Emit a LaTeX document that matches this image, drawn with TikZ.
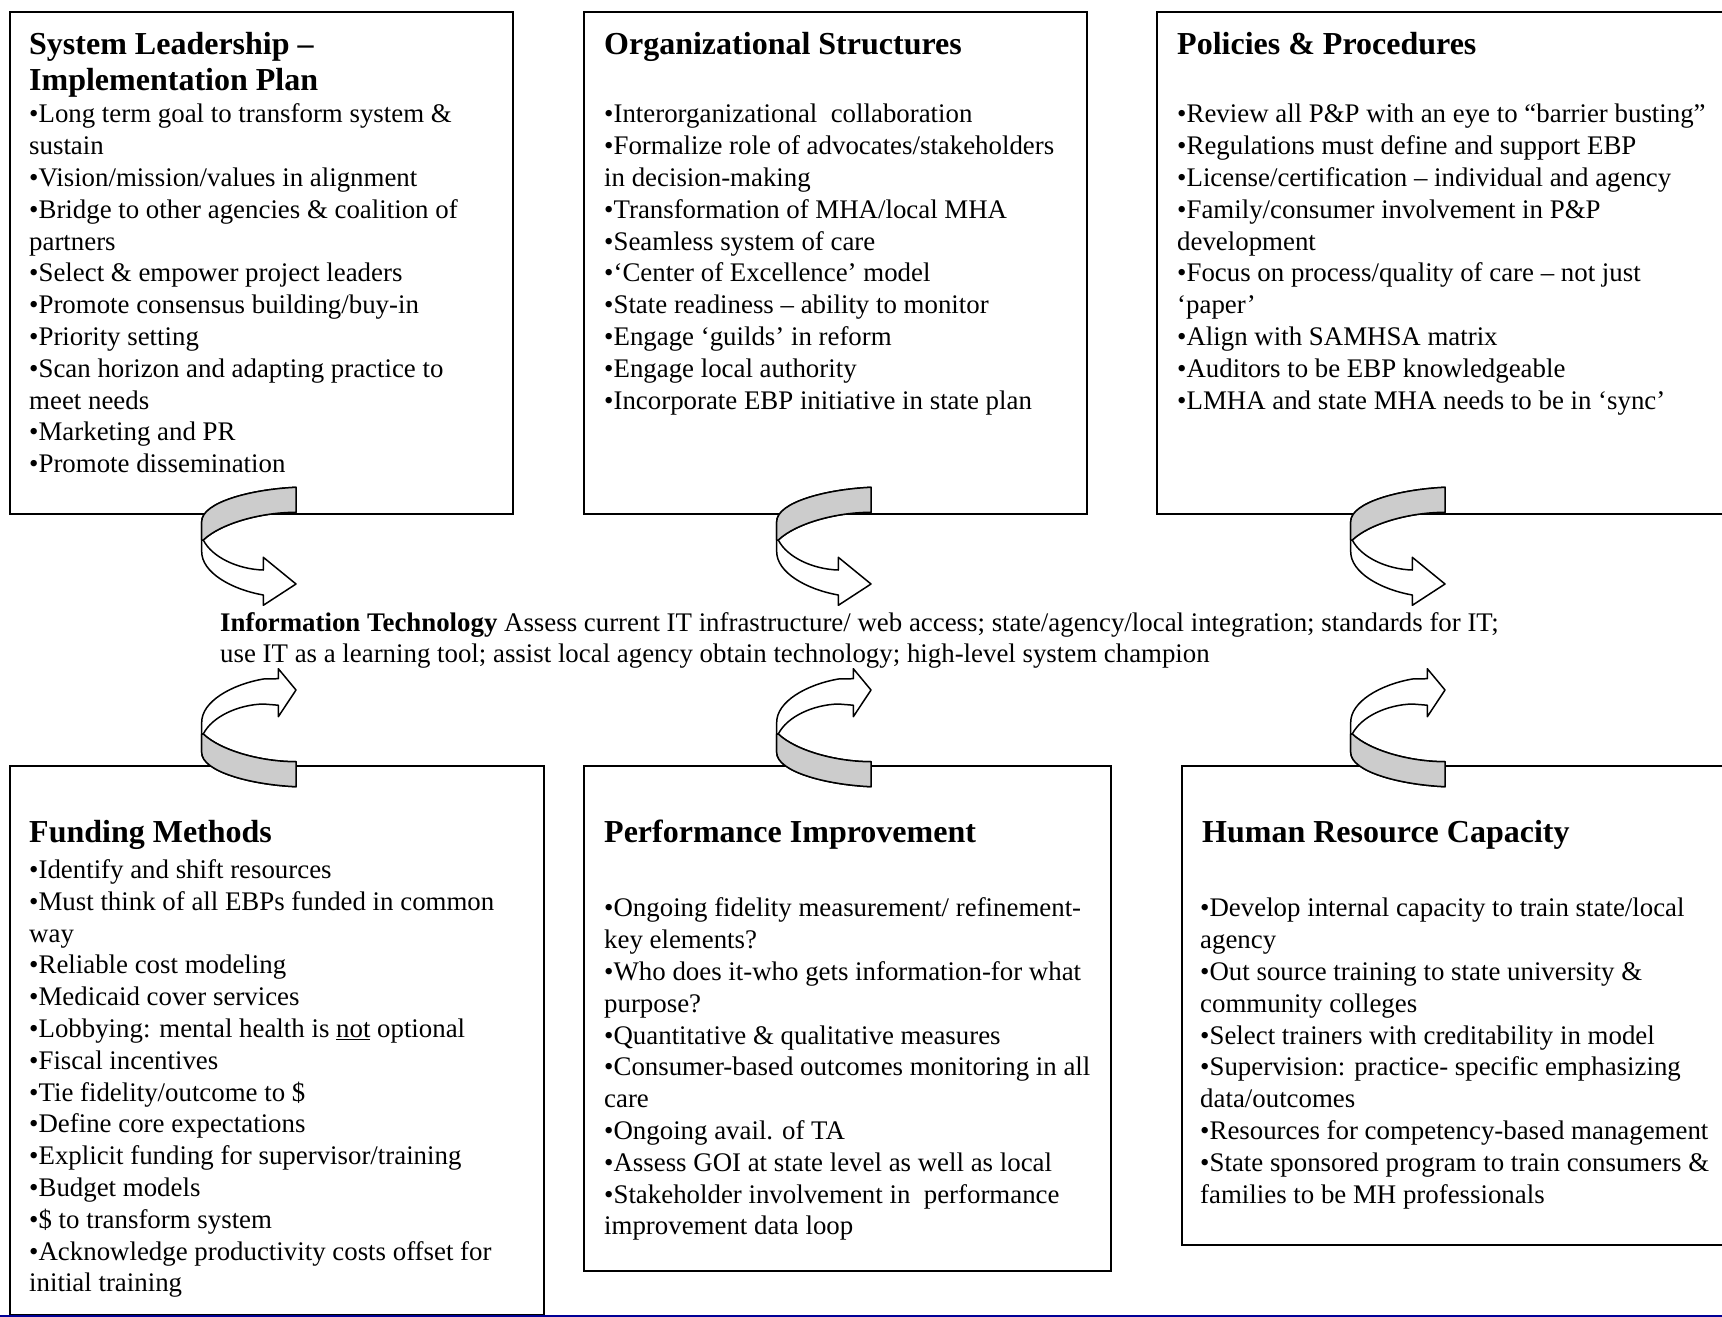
\documentclass[tikz,border=0pt]{standalone}
\usepackage{fontspec}
\setmainfont{Liberation Serif}
\usepackage{xcolor}
\usepackage{tikz}

\definecolor{pagenavy}{RGB}{0,0,150}
\tikzset{
  panel/.style={draw, line width=1.5pt, anchor=north west, inner sep=0pt},
  boxhead/.style={anchor=north west, inner sep=0pt, align=left, font=\fontsize{32}{36}\selectfont\bfseries},
  bullets/.style={anchor=north west, inner sep=0pt, align=left, font=\fontsize{26.85}{31.8}\selectfont},
  ribbon/.style={line width=1.5pt, line join=round}
}
% curved ribbon arrow: x, y, flip, head base
\newcommand{\uturn}[4]{%
  \begin{scope}[shift={(#1,#2)}, yscale=#3]
    \filldraw[ribbon, fill=white] (0,0) .. controls (-45,2) and (-94.3,15) .. (-94.3,34.4)
      -- (-94.3,64.4) .. controls (-94.3,85) and (-65,102) .. (-32.7,107.7)
      -- (#4,108) -- (#4,118) -- (0,96.7) -- (#4,70) -- (#4,81.5) -- (-32.7,82.7)
      .. controls (-58,82) and (-84,70) .. (-92.7,52.7)
      .. controls (-75,36) and (-35,25) .. (0,25) -- cycle;
    \filldraw[ribbon, fill=gray!40] (0,0) .. controls (-45,2) and (-94.3,15) .. (-94.3,34.4)
      -- (-94.3,52.7) -- (-92.7,52.7)
      .. controls (-75,36) and (-35,25) .. (0,25) -- cycle;
  \end{scope}}

\begin{document}
\begin{tikzpicture}[x=1pt, y=-1pt]
  \path[use as bounding box, clip] (0,0) rectangle (1722,1317);

  \node[panel, minimum width=503pt, minimum height=502pt] (lead) at (9,11) {};
  \node[panel, minimum width=503pt, minimum height=502pt] (orgs) at (583,11) {};
  \node[panel, minimum width=590pt, minimum height=502pt] (policy) at (1156,11) {};
  \node[panel, minimum width=534pt, minimum height=549pt] (funding) at (9,765) {};
  \node[panel, minimum width=527pt, minimum height=505pt] (perf) at (583,765) {};
  \node[panel, minimum width=560pt, minimum height=479pt] (hrcap) at (1181,765) {};

  \node[boxhead] (leadhead) at (29,28.8) {\strut System Leadership –\\Implementation Plan};
  \node[bullets] (leadlist) at (29,100.4) {\strut •Long term goal to transform system \&\\
    sustain\\
    •Vision/mission/values in alignment\\
    •Bridge to other agencies \& coalition of\\
    partners\\
    •Select \& empower project leaders\\
    •Promote consensus building/buy-in\\
    •Priority setting\\
    •Scan horizon and adapting practice to\\
    meet needs\\
    •Marketing and PR\\
    •Promote dissemination};

  \node[boxhead] (orgshead) at (604,28.8) {\strut Organizational Structures};
  \node[bullets] (orgslist) at (604,100.4) {\strut •Interorganizational\ \ collaboration\\
    •Formalize role of advocates/stakeholders\\
    in decision-making\\
    •Transformation of MHA/local MHA\\
    •Seamless system of care\\
    •‘Center of Excellence’ model\\
    •State readiness – ability to monitor\\
    •Engage ‘guilds’ in reform\\
    •Engage local authority\\
    •Incorporate EBP initiative in state plan};

  \node[boxhead] (policyhead) at (1177,28.8) {\strut Policies \& Procedures};
  \node[bullets] (policylist) at (1177,100.4) {\strut •Review all P\&P with an eye to “barrier busting”\\
    •Regulations must define and support EBP\\
    •License/certification – individual and agency\\
    •Family/consumer involvement in P\&P\\
    development\\
    •Focus on process/quality of care – not just\\
    ‘paper’\\
    •Align with SAMHSA matrix\\
    •Auditors to be EBP knowledgeable\\
    •LMHA and state MHA needs to be in ‘sync’};

  \node[bullets] (infotech) at (220,608.7) {\strut\textbf{Information Technology} Assess current IT infrastructure/ web access; state/agency/local integration; standards for IT;\\
    use IT as a learning tool; assist local agency obtain technology; high-level system champion};

  \node[boxhead] (fundinghead) at (29,817.3) {\strut Funding Methods};
  \node[bullets] (fundinglist) at (29,856) {\strut •Identify and shift resources\\
    •Must think of all EBPs funded in common\\
    way\\
    •Reliable cost modeling\\
    •Medicaid cover services\\
    •Lobbying: mental health is \underline{not} optional\\
    •Fiscal incentives\\
    •Tie fidelity/outcome to \$\\
    •Define core expectations\\
    •Explicit funding for supervisor/training\\
    •Budget models\\
    •\$ to transform system\\
    •Acknowledge productivity costs offset for\\
    initial training};

  \node[boxhead] (perfhead) at (604,817.3) {\strut Performance Improvement};
  \node[bullets] (perflist) at (604,894.4) {\strut •Ongoing fidelity measurement/ refinement-\\
    key elements?\\
    •Who does it-who gets information-for what\\
    purpose?\\
    •Quantitative \& qualitative measures\\
    •Consumer-based outcomes monitoring in all\\
    care\\
    •Ongoing avail. of TA\\
    •Assess GOI at state level as well as local\\
    •Stakeholder involvement in\ \ performance\\
    improvement data loop};

  \node[boxhead] (hrcaphead) at (1202,817.3) {\strut Human Resource Capacity};
  \node[bullets] (hrcaplist) at (1200,894.4) {\strut •Develop internal capacity to train state/local\\
    agency\\
    •Out source training to state university \&\\
    community colleges\\
    •Select trainers with creditability in model\\
    •Supervision: practice- specific emphasizing\\
    data/outcomes\\
    •Resources for competency-based management\\
    •State sponsored program to train consumers \&\\
    families to be MH professionals};

  \uturn{296}{487.3}{1}{-32.7}
  \uturn{871}{487.3}{1}{-32.7}
  \uturn{1445}{487.3}{1}{-32.7}
  \uturn{296}{786.7}{-1}{-17.7}
  \uturn{871}{786.7}{-1}{-17.7}
  \uturn{1445}{786.7}{-1}{-17.7}

  \draw[pagenavy, line width=2pt] (0,1316) -- (1722,1316);
\end{tikzpicture}
\end{document}
